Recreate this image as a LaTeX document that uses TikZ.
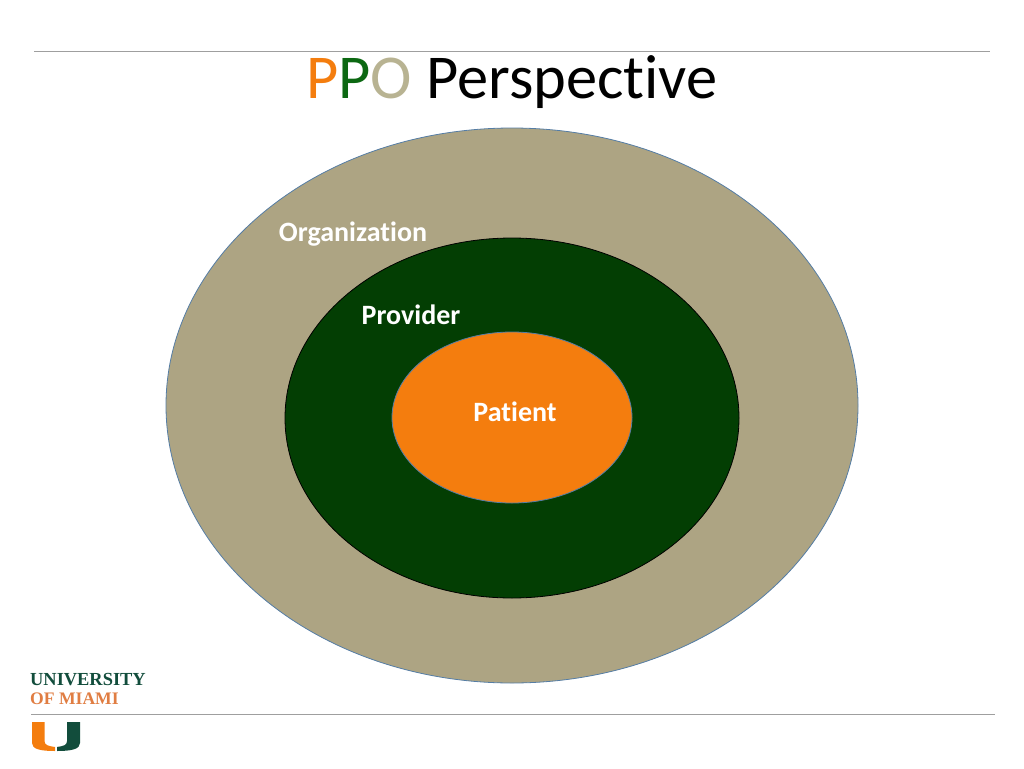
\documentclass[tikz,border=0pt]{standalone}
\usepackage{fontspec}
\setmainfont[Ligatures=NoCommon]{Carlito}
\newfontfamily\logofont{Liberation Serif}
\usetikzlibrary{shapes.geometric}
\definecolor{umorange}{RGB}{244,125,14}
\definecolor{umgreen}{RGB}{3,62,3}
\definecolor{umtan}{RGB}{173,164,131}
\definecolor{ringblue}{RGB}{85,125,165}
\definecolor{titlegreen}{RGB}{12,104,18}
\definecolor{titletan}{RGB}{184,179,146}
\definecolor{logogreen}{RGB}{18,77,60}
\definecolor{logoorange}{RGB}{224,125,66}
\tikzset{
  ring/.style={ellipse,draw,inner sep=0pt,line width=0.8pt},
  ringlabel/.style={text=white,font=\fontsize{28}{32}\selectfont\bfseries,inner sep=0pt},
  rule/.style={draw=gray!75,line width=1pt}
}
\begin{document}
\begin{tikzpicture}[x=1pt,y=-1pt]
\useasboundingbox (0,0) rectangle (1024,768);

\coordinate (topleft) at (34,51.5);
\coordinate (topright) at (990,51.5);
\coordinate (botleft) at (31,714);
\coordinate (botright) at (995,714);
\draw[rule] (topleft) -- (topright);
\draw[rule] (botleft) -- (botright);

\node (title) [inner sep=0pt,font=\fontsize{62.4}{74}\selectfont] at (512,82) {\textcolor{umorange}{P}\textcolor{titlegreen}{P}\textcolor{titletan}{O} Perspective};

%
% nested rings
%
\node (organization) [ring,fill=umtan,draw=ringblue,minimum width=692pt,minimum height=555pt] at (512,405.5) {};
\node (provider) [ring,fill=umgreen,draw=black,minimum width=454pt,minimum height=360pt] at (512,418) {};
\node (patient) [ring,fill=umorange,draw=ringblue,minimum width=240pt,minimum height=171pt] at (512,417.5) {};

\node (orglabel) [ringlabel] at (353,234) {Organization};
\node (provlabel) [ringlabel] at (411,315) {Provider};
\node (patlabel) [ringlabel] at (515,412) {Patient};

%
% logo
%
\node (university) [anchor=west,inner sep=0pt,text=logogreen,font=\logofont\bfseries\fontsize{18.4}{22}\selectfont] at (30,680) {UNIVERSITY};
\node (miami) [anchor=west,inner sep=0pt,text=logoorange,font=\logofont\bfseries\fontsize{17.6}{22}\selectfont] at (30,699) {OF MIAMI};

\fill[umorange] (32,722) -- (44.5,722) -- (44.5,741) .. controls (44.5,745) and (48,746) .. (55,747) -- (55,751) .. controls (40,751) and (32,749) .. (32,743) -- cycle;
\fill[logogreen] (80,722) -- (67,722) -- (67,741) .. controls (67,745) and (64,746) .. (57,747) -- (57,751) .. controls (72,751) and (80,749) .. (80,743) -- cycle;
\end{tikzpicture}
\end{document}
